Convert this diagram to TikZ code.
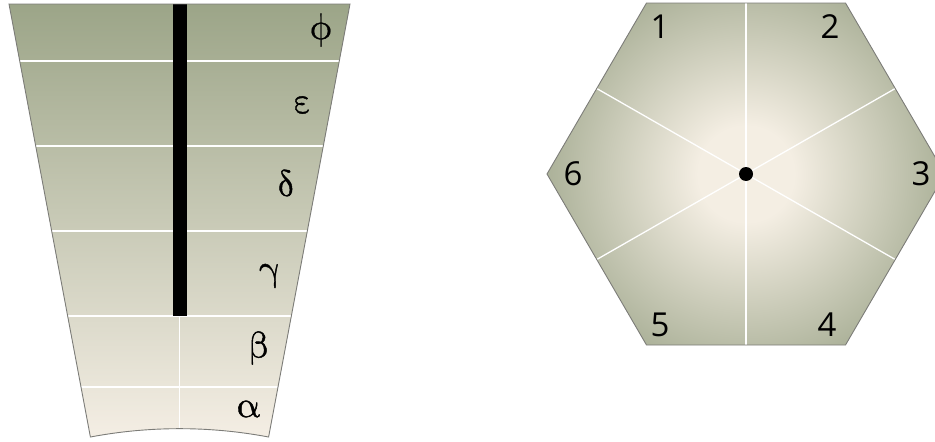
\documentclass[tikz,border=0pt]{standalone}
\usepackage{fontspec}
\newfontfamily\lmg{Latin Modern Math}[FakeBold=1.2]
\newfontfamily\dig{Open Sans}
\definecolor{trtop}{HTML}{9CA588}
\definecolor{trbot}{HTML}{F4EEE4}
\definecolor{hexin}{HTML}{F4EEE3}
\definecolor{hexout}{HTML}{98A185}
\definecolor{edgegray}{HTML}{7C7C78}
\pgfdeclareradialshading{hexsh}{\pgfpoint{0bp}{0bp}}{color(0bp)=(hexin); color(5bp)=(hexin); color(25bp)=(hexout); color(50bp)=(hexout)}
\tikzset{
  sep/.style={draw=white, line width=1.3pt},
  outline/.style={draw=edgegray, line width=0.9pt},
  greek/.style={inner sep=0pt, font=\lmg\fontsize{37}{42}\selectfont},
  num/.style={inner sep=0pt, font=\dig\fontsize{33}{38}\selectfont}
}
\begin{document}
\begin{tikzpicture}[x=1pt,y=-1pt]
\useasboundingbox (0,0) rectangle (935,442);
% trapezoid
\shade[top color=trtop, bottom color=trbot] (9,4) -- (350,4) -- (268.6,437) .. controls (209.7,425.9) and (149.3,425.9) .. (90.4,437) -- cycle;
\foreach \y in {61,146,231,316,387} {
  \pgfmathsetmacro{\h}{170.5-0.1883*(\y-4)}
  \draw[sep] ({179.5-\h},\y) -- ({179.5+\h},\y);
}
\draw[sep] (179.5,316) -- (179.5,428.7);
\fill[black] (172.5,4) rectangle (186.5,316);
\draw[outline] (9,4) -- (350,4) -- (268.6,437) .. controls (209.7,425.9) and (149.3,425.9) .. (90.4,437) -- cycle;
\node[greek] (phi) at (321,30) {ϕ};
\node[greek] (eps) at (303,105) {ε};
\node[greek] (del) at (286,183) {δ};
\node[greek] (gam) at (269.5,276) {γ};
\node[greek] (bet) at (259,348) {β};
\node[greek] (alp) at (248,409) {α};
% hexagon
\begin{scope}
\clip (945,174) -- (845.5,3) -- (646.5,3) -- (547,174) -- (646.5,345) -- (845.5,345) -- cycle;
\shade[shading=hexsh] (746,174) circle[radius=240pt];
\end{scope}
\foreach \x/\y in {746/3, 895.25/88.5, 895.25/259.5, 746/345, 596.75/259.5, 596.75/88.5}
  \draw[sep] (746,174) -- (\x,\y);
\draw[outline] (945,174) -- (845.5,3) -- (646.5,3) -- (547,174) -- (646.5,345) -- (845.5,345) -- cycle;
\fill[black] (746,174) circle[radius=7pt];
\node[num] (n1) at (660,27) {1};
\node[num] (n2) at (830,27) {2};
\node[num] (n3) at (921,174) {3};
\node[num] (n4) at (827,325) {4};
\node[num] (n5) at (660,325) {5};
\node[num] (n6) at (573,174) {6};
\end{tikzpicture}
\end{document}
